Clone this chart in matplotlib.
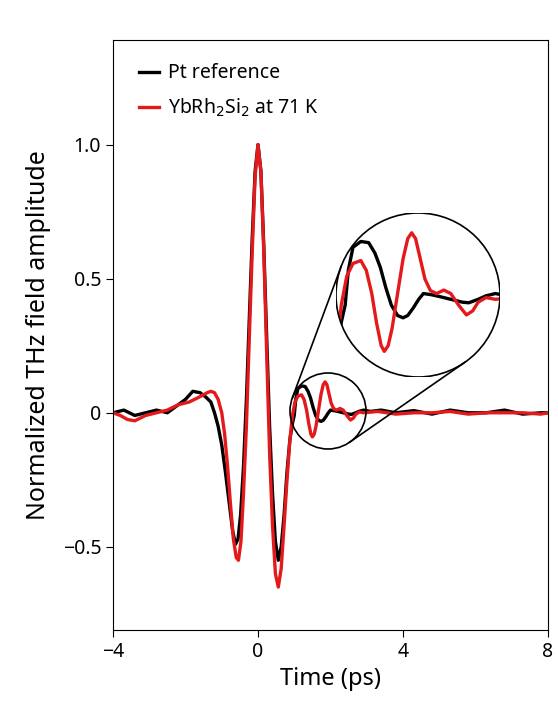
import numpy as np
import matplotlib.pyplot as plt
from matplotlib.patches import Ellipse
from matplotlib.lines import Line2D

plt.rcParams['font.family'] = ['Noto Sans', 'DejaVu Sans']

# Pt reference waveform (ps, normalized amplitude)
t_pt = [-4.0, -3.7, -3.4, -3.1, -2.8, -2.5, -2.2, -2.0, -1.8, -1.6, -1.45, -1.3, -1.2,
        -1.1, -1.0, -0.9, -0.8, -0.7, -0.62, -0.55, -0.48, -0.4, -0.32, -0.24, -0.16,
        -0.08, 0.0, 0.08, 0.16, 0.24, 0.32, 0.4, 0.48, 0.56, 0.64, 0.72, 0.8, 0.88,
        0.95, 1.0, 1.04, 1.1, 1.2, 1.3, 1.38, 1.45, 1.52, 1.59, 1.67, 1.74, 1.8, 1.87,
        1.94, 2.0, 2.1, 2.2, 2.35, 2.5, 2.58, 2.7, 2.8, 2.92, 3.1, 3.4, 3.8, 4.3, 4.8,
        5.3, 5.8, 6.3, 6.8, 7.3, 7.8, 8.0]
a_pt = [0.0, 0.01, -0.01, 0.0, 0.01, 0.0, 0.03, 0.05, 0.08, 0.075, 0.06, 0.04, 0.0,
        -0.05, -0.12, -0.22, -0.33, -0.44, -0.49, -0.47, -0.38, -0.2, 0.05, 0.35, 0.65,
        0.9, 1.0, 0.9, 0.62, 0.28, -0.05, -0.3, -0.48, -0.55, -0.5, -0.38, -0.22, -0.1,
        -0.04, -0.01, 0.05, 0.09, 0.1, 0.098, 0.08, 0.055, 0.02, -0.01, -0.028, -0.032,
        -0.028, -0.015, 0.0, 0.01, 0.008, 0.005, 0.0, -0.005, -0.006, 0.0, 0.006, 0.01,
        0.005, 0.01, 0.0, 0.008, -0.005, 0.01, 0.0, 0.0, 0.01, -0.005, 0.0, 0.0]

# YbRh2Si2 at 71 K waveform
t_yb = [-4.0, -3.8, -3.6, -3.4, -3.1, -2.8, -2.5, -2.2, -1.9, -1.6, -1.4, -1.3, -1.2,
        -1.1, -1.0, -0.92, -0.84, -0.76, -0.68, -0.6, -0.54, -0.47, -0.4, -0.32, -0.24,
        -0.16, -0.08, 0.0, 0.08, 0.16, 0.24, 0.32, 0.4, 0.48, 0.56, 0.64, 0.72, 0.8,
        0.88, 0.95, 1.02, 1.1, 1.2, 1.27, 1.34, 1.4, 1.46, 1.5, 1.55, 1.6, 1.67, 1.74,
        1.8, 1.85, 1.9, 1.96, 2.02, 2.09, 2.17, 2.26, 2.35, 2.45, 2.55, 2.63, 2.7, 2.8,
        2.92, 3.3, 3.8, 4.3, 4.8, 5.3, 5.8, 6.3, 6.8, 7.3, 7.8, 8.0]
a_yb = [0.0, -0.01, -0.025, -0.03, -0.01, 0.0, 0.01, 0.03, 0.04, 0.06, 0.075, 0.08, 0.075,
        0.05, 0.0, -0.08, -0.2, -0.34, -0.47, -0.54, -0.55, -0.48, -0.3, -0.05, 0.28,
        0.6, 0.88, 1.0, 0.9, 0.6, 0.22, -0.15, -0.42, -0.6, -0.65, -0.58, -0.42, -0.25,
        -0.1, -0.01, 0.04, 0.062, 0.067, 0.05, 0.01, -0.04, -0.08, -0.09, -0.08, -0.05,
        0.01, 0.07, 0.105, 0.115, 0.105, 0.07, 0.035, 0.015, 0.01, 0.016, 0.01, -0.01,
        -0.027, -0.02, -0.005, 0.003, 0.0, 0.005, -0.005, 0.0, 0.0, 0.005, -0.005, 0.0,
        0.0, 0.0, -0.005, 0.0]

W, H = 558, 707
fig = plt.figure(figsize=(W / 100, H / 100), dpi=100)
ax = fig.add_axes([113 / W, 1 - 630 / H, 435 / W, 590 / H])

lw = 2.4
ax.plot(t_pt, a_pt, color='black', lw=lw, label='Pt reference')
ax.plot(t_yb, a_yb, color='#e4191c', lw=lw, label='YbRh$_2$Si$_2$ at 71 K')
ax.set_xlim(-4, 8)
ax.set_ylim(-0.81, 1.39)
ax.set_xticks([-4, 0, 4, 8])
ax.set_xticklabels(['\u22124', '0', '4', '8'])
ax.set_yticks([-0.5, 0, 0.5, 1.0])
ax.set_yticklabels(['\u22120.5', '0', '0.5', '1.0'])
ax.tick_params(labelsize=14, direction='out', length=5)
ax.set_xlabel('Time (ps)', fontsize=17)
ax.set_ylabel('Normalized THz field amplitude', fontsize=18, labelpad=8)
ax.legend(loc='upper left', frameon=False, fontsize=14, handlelength=1.0,
          handletextpad=0.5, labelspacing=0.7, bbox_to_anchor=(0.02, 0.99))

# magnifier: small circle (pixels, y down) and big circle
c1, r1 = np.array([328.0, 411.0]), 38.0
c2, r2 = np.array([418.0, 295.0]), 82.0

def fp(p):
    return (p[0] / W, 1 - p[1] / H)

fig.patches.append(Ellipse(fp(c1), 2 * r1 / W, 2 * r1 / H, transform=fig.transFigure,
                           fill=False, ec='black', lw=1.2, zorder=5))

# outer tangent lines (y-up pixel space)
p1 = np.array([c1[0], H - c1[1]])
p2 = np.array([c2[0], H - c2[1]])
d = p2 - p1
D = np.hypot(*d)
u = d / D
v = np.array([-u[1], u[0]])
a = (r1 - r2) / D
for s in (1, -1):
    n = a * u + s * np.sqrt(1 - a * a) * v
    q1, q2 = p1 + r1 * n, p2 + r2 * n
    fig.lines.append(Line2D([q1[0] / W, q2[0] / W], [q1[1] / H, q2[1] / H],
                            transform=fig.transFigure, color='black', lw=1.2))

# zoomed view
xc = (c1[0] - 258) / 36.25
yc = (413 - c1[1]) / 268.0
xr = r1 / 36.25
yr = r1 / 268.0
ins = fig.add_axes([(c2[0] - r2) / W, 1 - (c2[1] + r2) / H, 2 * r2 / W, 2 * r2 / H])
ins.set_xlim(xc - xr, xc + xr)
ins.set_ylim(yc - yr, yc + yr)
ins.axis('off')
clip = Ellipse((0.5, 0.5), 1, 1, transform=ins.transAxes, facecolor='white',
               edgecolor='none', zorder=0)
ins.add_patch(clip)
l1, = ins.plot(t_pt, a_pt, color='black', lw=lw, zorder=2)
l2, = ins.plot(t_yb, a_yb, color='#e4191c', lw=lw, zorder=3)
l1.set_clip_path(clip)
l2.set_clip_path(clip)
ring = Ellipse((0.5, 0.5), 1, 1, transform=ins.transAxes, fill=False,
               edgecolor='black', lw=1.2, zorder=4)
ins.add_patch(ring)

fig.savefig('out.png', dpi=100)
